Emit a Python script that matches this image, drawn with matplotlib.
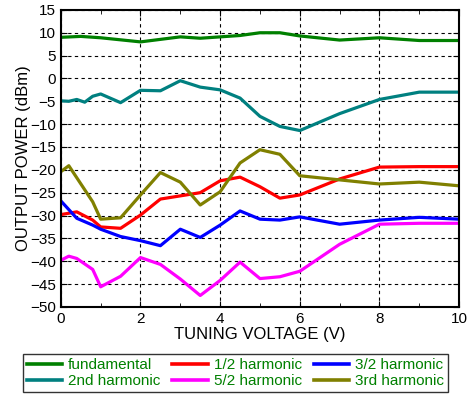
import numpy as np
import matplotlib
matplotlib.use('Agg')
import matplotlib.pyplot as plt
from matplotlib.ticker import MultipleLocator

plt.rcParams['font.family'] = ['Liberation Sans', 'DejaVu Sans']

# tuning voltage (V) and output power (dBm)
v_fund = [0, 0.5, 1, 2, 3, 3.5, 4, 4.5, 5, 5.5, 6, 7, 8, 9, 10]
p_fund = [9.0, 9.2, 8.9, 8.0, 9.1, 8.8, 9.1, 9.4, 10.0, 10.0, 9.3, 8.4, 8.9, 8.3, 8.3]

v_half = [0, 0.4, 0.8, 1, 1.5, 2, 2.5, 3, 3.5, 4, 4.5, 5, 5.5, 6, 7, 8, 9, 10]
p_half = [-29.8, -29.2, -31.0, -32.5, -32.8, -29.9, -26.4, -25.7, -25.0, -22.4,
          -21.6, -23.7, -26.2, -25.5, -22.0, -19.4, -19.3, -19.3]

v_3half = [0, 0.4, 0.8, 1, 1.5, 2, 2.5, 3, 3.5, 4, 4.5, 5, 5.5, 6, 7, 8, 9, 10]
p_3half = [-26.8, -30.6, -32.1, -33.0, -34.6, -35.5, -36.6, -33.0, -34.8, -32.1,
           -29.0, -30.8, -31.0, -30.3, -31.9, -31.0, -30.4, -30.8]

v_2nd = [0, 0.2, 0.4, 0.6, 0.8, 1, 1.5, 2, 2.5, 3, 3.5, 4, 4.5, 5, 5.5, 6, 7, 8, 9, 10]
p_2nd = [-4.9, -5.0, -4.6, -5.2, -3.9, -3.4, -5.3, -2.6, -2.7, -0.5, -1.9, -2.5,
         -4.3, -8.3, -10.5, -11.4, -7.7, -4.6, -3.0, -3.0]

v_5half = [0, 0.2, 0.4, 0.8, 1, 1.5, 2, 2.5, 3, 3.5, 4, 4.5, 5, 5.5, 6, 7, 8, 9, 10]
p_5half = [-39.8, -38.9, -39.4, -41.8, -45.6, -43.3, -39.2, -40.7, -43.9, -47.5,
           -44.2, -40.2, -43.8, -43.4, -42.2, -36.3, -31.9, -31.7, -31.7]

v_3rd = [0, 0.2, 0.8, 1, 1.5, 2, 2.5, 3, 3.5, 4, 4.5, 5, 5.5, 6, 7, 8, 9, 10]
p_3rd = [-20.4, -19.1, -27.0, -30.8, -30.5, -25.5, -20.6, -22.7, -27.7, -24.8,
         -18.5, -15.6, -16.6, -21.3, -22.2, -23.1, -22.7, -23.5]

series = [
    (v_fund, p_fund, '#008000', 'fundamental'),
    (v_half, p_half, '#ff0000', '1/2 harmonic'),
    (v_3half, p_3half, '#0000ff', '3/2 harmonic'),
    (v_2nd, p_2nd, '#008080', '2nd harmonic'),
    (v_5half, p_5half, '#ff00ff', '5/2 harmonic'),
    (v_3rd, p_3rd, '#808000', '3rd harmonic'),
]

fig = plt.figure(figsize=(4.68, 3.96), dpi=100)
ax = fig.add_axes([0.130, 0.225, 0.851, 0.750])

lines = []
for v, p, c, name in series:
    ln, = ax.plot(v, p, color=c, lw=2.3, label=name)
    lines.append(ln)

ax.set_xlim(0, 10)
ax.set_ylim(-50, 15)
ax.set_xticks(np.arange(0, 11, 2))
ax.xaxis.set_minor_locator(MultipleLocator(1))
ax.set_yticks(np.arange(-50, 16, 5))
ax.grid(True, which='major', color='k', linestyle=(0, (3, 3)), linewidth=0.8)
ax.tick_params(which='both', direction='in', top=True, right=True, labelsize=11)
ax.tick_params(which='major', length=4)
ax.tick_params(which='minor', length=3)
for s in ax.spines.values():
    s.set_linewidth(1.5)

ax.set_xlabel('TUNING VOLTAGE (V)', fontsize=12, labelpad=1)
ax.set_ylabel('OUTPUT POWER (dBm)', fontsize=12, labelpad=-1)

# legend is filled row by row in the original, matplotlib fills by column
order = [0, 3, 1, 4, 2, 5]
leg = fig.legend([lines[i] for i in order], [series[i][3] for i in order],
                 loc='center', bbox_to_anchor=(0.503, 0.058), ncol=3,
                 fontsize=11, fancybox=False, edgecolor='k',
                 handlelength=2.3, handletextpad=0.4, columnspacing=0.8,
                 labelspacing=0.15, borderpad=0.25)
leg.get_frame().set_linewidth(1.0)
for line in leg.get_lines():
    line.set_linewidth(2.6)
for t in leg.get_texts():
    t.set_color('#008000')

fig.savefig('out.png', dpi=100)
